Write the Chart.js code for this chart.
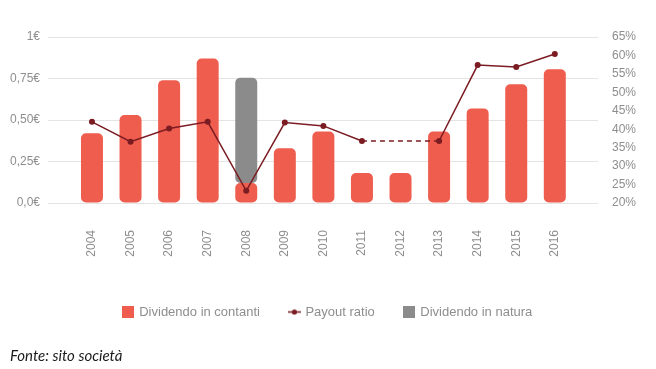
<!DOCTYPE html>
<html>
<head>
<meta charset="utf-8">
<script src="https://cdn.jsdelivr.net/npm/chart.js@4/dist/chart.umd.min.js"></script>
<style>
  html, body { margin: 0; padding: 0; background: #ffffff; }
  #wrap { width: 656px; height: 369px; position: relative; }
  #note { position: absolute; left: 10px; top: 345px; font-family: Lato, "Open Sans", sans-serif;
          font-style: italic; font-size: 15px; line-height: 20px; color: #1a1a1a; white-space: nowrap; }
</style>
</head>
<body>
<div id="wrap"><canvas id="c" width="656" height="369"></canvas><div id="note"></div></div>
<script>
// ---- data ----
const years = [2004, 2005, 2006, 2007, 2008, 2009, 2010, 2011, 2012, 2013, 2014, 2015, 2016];
const dividendoContanti = [0.42, 0.53, 0.74, 0.87, 0.12, 0.33, 0.43, 0.18, 0.18, 0.43, 0.57, 0.715, 0.805];
const dividendoNatura = [null, null, null, null, 0.635, null, null, null, null, null, null, null, null];
const payoutRatio = [42.0, 36.6, 40.2, 42.0, 23.3, 41.8, 40.9, 36.8, null, 36.8, 57.4, 56.9, 60.4];
const leftTickLabels = ['0,0€', '0,25€', '0,50€', '0,75€', '1€'];
const rightTickLabels = ['20%', '25%', '30%', '35%', '40%', '45%', '50%', '55%', '60%', '65%'];
const seriesNames = ['Dividendo in contanti', 'Payout ratio', 'Dividendo in natura'];
const sourceNote = 'Fonte: sito società';

document.getElementById('note').textContent = sourceNote;

// ---- styles ----
const RED = '#ee5d4e';
const GREY = '#8b8b8b';
const DARK = '#7b1c22';
const TXT = '#8e8e8e';
const FONT = '"Liberation Sans", Arial, sans-serif';

function makeSquare(color) {
  const c = document.createElement('canvas');
  c.width = 12; c.height = 12;
  const g = c.getContext('2d');
  g.fillStyle = color; g.fillRect(0, 0, 12, 12);
  return c;
}
function makeLineMarker(color) {
  const c = document.createElement('canvas');
  c.width = 13; c.height = 7;
  const g = c.getContext('2d');
  g.strokeStyle = color; g.lineWidth = 1.5;
  g.beginPath(); g.moveTo(0, 3.5); g.lineTo(13, 3.5); g.stroke();
  g.fillStyle = color; g.beginPath(); g.arc(6.5, 3.5, 2.6, 0, Math.PI * 2); g.fill();
  return c;
}
const legendMarkers = [makeSquare(RED), makeLineMarker(DARK), makeSquare(GREY)];

const toPoints = (arr) => years.map((y, i) => ({ x: y, y: arr[i] }));
// in-kind dividend sits on top of the cash dividend (floating range)
const naturaRanges = years.map((y, i) => ({
  x: y,
  y: dividendoNatura[i] == null ? null : [dividendoContanti[i], dividendoContanti[i] + dividendoNatura[i]]
}));

new Chart(document.getElementById('c'), {
  data: {
    datasets: [
      {
        type: 'bar', label: seriesNames[0], data: toPoints(dividendoContanti),
        backgroundColor: RED, yAxisID: 'y', stack: 's', order: 2,
        borderRadius: 5, borderSkipped: false,
        categoryPercentage: 0.57, barPercentage: 1
      },
      {
        type: 'line', label: seriesNames[1], data: toPoints(payoutRatio),
        yAxisID: 'y1', order: 1, borderColor: DARK, backgroundColor: DARK,
        borderWidth: 1.5, pointRadius: 3, pointBorderWidth: 0,
        pointBackgroundColor: DARK, tension: 0, spanGaps: true,
        segment: {
          borderDash: ctx => (ctx.p0.skip || ctx.p1.skip) ? [5, 4] : undefined
        }
      },
      {
        type: 'bar', label: seriesNames[2], data: naturaRanges,
        backgroundColor: GREY, yAxisID: 'y', stack: 's', order: 2,
        borderRadius: 5, borderSkipped: false,
        categoryPercentage: 0.57, barPercentage: 1
      }
    ]
  },
  options: {
    responsive: false,
    animation: false,
    events: [],
    layout: { padding: { left: 0, top: 37, right: 0, bottom: 40.5 } },
    scales: {
      x: {
        type: 'linear', offset: false,
        min: 2002.86, max: 2017.12,
        grid: { display: false, drawTicks: false, offset: false },
        border: { display: false },
        afterBuildTicks: (s) => { s.ticks = s.ticks.filter(t => years.includes(t.value)); },
        afterFit: (s) => { s.height = 72.5; },
        ticks: {
          stepSize: 1, includeBounds: false, autoSkip: false,
          minRotation: 90, maxRotation: 90, padding: 27,
          color: TXT, font: { family: FONT, size: 12 },
          callback: (v) => String(v)
        }
      },
      y: {
        position: 'left', min: 0, max: 1, stacked: false,
        grid: { color: '#e4e4e4', drawTicks: false, lineWidth: 1 },
        border: { display: false },
        afterFit: (s) => { s.width = 48; },
        ticks: {
          stepSize: 0.25, padding: 8, color: TXT, font: { family: FONT, size: 12 },
          callback: (v) => leftTickLabels[Math.round(v / 0.25)]
        }
      },
      y1: {
        position: 'right', min: 20, max: 65,
        grid: { display: false, drawTicks: false },
        border: { display: false },
        afterFit: (s) => { s.width = 58; },
        ticks: {
          stepSize: 5, padding: 14, color: TXT, font: { family: FONT, size: 12 },
          callback: (v) => rightTickLabels[Math.round((v - 20) / 5)]
        }
      }
    },
    plugins: {
      tooltip: { enabled: false },
      title: { display: false },
      legend: {
        position: 'bottom',
        labels: {
          usePointStyle: true, pointStyleWidth: 9, boxWidth: 12, boxHeight: 12, padding: 30,
          color: TXT, font: { family: FONT, size: 13 },
          sort: (a, b) => a.datasetIndex - b.datasetIndex,
          generateLabels: (chart) => {
            const items = Chart.defaults.plugins.legend.labels.generateLabels(chart);
            items.forEach(it => { it.pointStyle = legendMarkers[it.datasetIndex]; });
            return items;
          }
        }
      }
    }
  }
});
</script>
</body>
</html>
